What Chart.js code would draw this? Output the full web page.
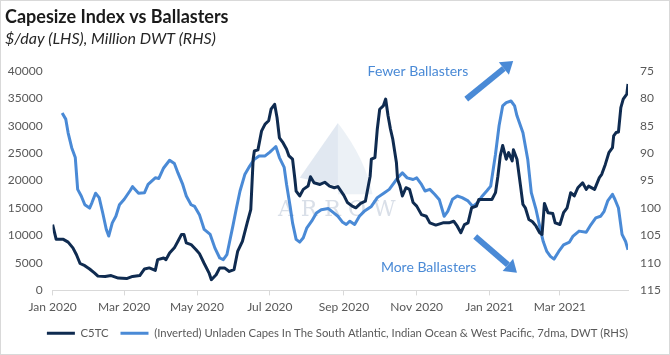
<!DOCTYPE html>
<html>
<head>
<meta charset="utf-8">
<script src="https://cdn.jsdelivr.net/npm/chart.js@4.4.1/dist/chart.umd.min.js"></script>
<style>
  html, body { margin: 0; padding: 0; background: #ffffff; }
  #wrap { width: 670px; height: 355px; position: relative; }
</style>
</head>
<body>
<div id="wrap"><canvas id="c" width="670" height="355"></canvas></div>
<script>
// ---- DATA (day offset from 1 Jan 2020) ----
const monthTickDays = [0, 60, 121, 182, 244, 305, 366, 425];
const monthTickLabels = ["Jan 2020", "Mar 2020", "May 2020", "Jul 2020", "Sep 2020", "Nov 2020", "Jan 2021", "Mar 2021"];

const c5tcDays = [0,3,9,13,17,20,23,27,31,35,38,44,49,55,62,67,73,77,81,86,88,93,95,98,102,105,108,110,112,116,120,123,127,131,133,137,140,144,148,152,155,159,163,166,168,169,172,175,178,181,183,186,188,190,193,196,198,201,203,204,207,210,214,216,219,224,228,232,236,239,244,247,251,254,258,262,266,267,270,272,274,277,279,281,283,285,288,289,291,293,296,299,302,305,309,313,316,321,327,332,336,339,342,345,348,351,355,357,366,368,371,373,375,377,380,382,385,386,389,392,394,396,399,402,405,408,410,412,415,419,421,425,428,431,434,437,440,444,447,449,454,458,460,463,466,469,470,472,474,476,478,481,482];
const c5tcValues = [12000,9300,9300,8800,7750,6500,4900,4500,3900,3200,2600,2550,2700,2250,2150,2550,2700,3900,4100,3650,5600,5900,5600,6800,7750,8950,10200,10200,8650,8350,7450,6700,4900,3200,1950,2850,4100,4100,3450,3800,7100,8950,12300,14700,23900,25400,25600,29000,30300,30900,33000,33900,31500,27800,26900,25700,24500,23900,20200,18100,17200,18400,19000,20700,19600,19300,19700,19000,18700,18900,17300,16000,15350,15050,15850,16250,20800,23900,24200,29400,33000,33600,34850,31800,29400,27500,23300,20200,19000,17200,18700,18400,16000,15350,13800,13500,12300,11900,12300,12300,12600,11700,10500,12000,12300,15050,15350,16550,16550,16550,17800,20800,24500,26400,23900,25100,23600,25600,23900,19000,15650,15050,12900,12500,11700,10500,10200,15850,14150,14000,12300,12000,14150,15050,17800,17200,18700,19600,18400,19000,18400,20550,21150,22950,25100,26000,28150,28750,28850,33300,34850,35750,37600];

const capesDays = [8,11,13,16,19,21,24,27,31,33,36,39,42,45,47,50,53,56,60,65,67,72,77,80,83,86,89,93,98,102,105,109,112,116,119,123,127,132,136,140,143,146,148,151,154,157,161,165,169,173,178,182,185,187,190,194,196,199,201,204,207,210,213,217,221,225,231,235,239,243,246,249,253,257,261,267,272,278,282,286,289,293,297,302,305,309,312,316,320,324,328,331,335,339,343,348,352,356,360,364,367,371,374,377,380,384,387,389,394,398,401,405,408,411,414,417,420,424,428,433,436,441,447,451,455,459,462,465,469,471,474,477,480,482];
const capesValues = [82.7,83.8,86.3,89.0,90.8,96.6,97.8,99.4,100.0,99.0,97.3,98.1,100.9,103.9,105.1,102.7,101.5,99.4,98.4,96.8,96.1,97.3,97.2,95.7,95.1,94.5,94.6,92.7,91.3,91.9,93.6,95.7,97.8,99.4,99.7,101.2,103.9,104.8,107.3,109.1,109.4,108.5,106.4,103.3,100.0,96.9,93.9,92.4,91.1,90.5,90.5,89.8,89.2,88.8,90.8,92.6,95.7,99.7,102.7,105.7,106.2,105.4,103.6,102.4,100.9,100.3,100.1,100.8,101.5,102.6,103.0,102.4,103.0,101.5,100.6,99.7,98.1,97.2,96.6,95.4,94.5,93.6,94.5,94.8,94.5,95.7,96.9,96.6,97.5,98.5,101.5,100.6,98.4,97.8,98.1,98.7,99.7,99.0,97.8,96.8,96.0,90.2,85.0,81.4,80.8,80.5,81.4,83.2,86.3,91.1,97.2,100.3,103.3,106.1,107.9,108.8,109.3,107.9,106.7,106.2,105.1,104.2,104.4,103.0,101.8,101.5,100.6,98.7,97.5,98.4,100.0,104.8,106.1,107.6];

const seriesNames = ["C5TC", "(Inverted) Unladen Capes In The South Atlantic, Indian Ocean & West Pacific, 7dma, DWT (RHS)"];
const titleText = "Capesize Index vs Ballasters";
const subtitleText = "$/day (LHS), Million DWT (RHS)";

// ---- STYLE ----
const DARK = "#0f2b50";
const BLUE = "#4a8ad6";
const FONT = "Lato, 'Liberation Sans', Arial, sans-serif";
const GREY = "#595959";

const toPoints = (xs, ys) => xs.map((d, i) => ({ x: d, y: ys[i] }));

// decoration plugin: border, watermark, annotations
const deco = {
  id: "deco",
  beforeDatasetsDraw(chart) {
    const ctx = chart.ctx;
    const xs = chart.scales.x, yl = chart.scales.yL;
    ctx.save();
    ctx.fillStyle = "rgba(170,190,215,0.35)";
    ctx.beginPath();
    ctx.moveTo(xs.getPixelForValue(207), yl.getPixelForValue(20500));
    ctx.lineTo(xs.getPixelForValue(239), yl.getPixelForValue(30500));
    ctx.lineTo(xs.getPixelForValue(239), yl.getPixelForValue(19000));
    ctx.closePath(); ctx.fill();
    ctx.fillStyle = "rgba(170,190,215,0.22)";
    ctx.beginPath();
    ctx.moveTo(xs.getPixelForValue(239), yl.getPixelForValue(30500));
    ctx.quadraticCurveTo(xs.getPixelForValue(262), yl.getPixelForValue(24000), xs.getPixelForValue(268), yl.getPixelForValue(17500));
    ctx.lineTo(xs.getPixelForValue(239), yl.getPixelForValue(17500));
    ctx.closePath(); ctx.fill();
    ctx.fillStyle = "rgba(170,185,205,0.45)";
    ctx.font = "22px 'DejaVu Serif', 'Liberation Serif', serif";
    ctx.textAlign = "center"; ctx.textBaseline = "middle";
    ctx.fillText("A R R O W", xs.getPixelForValue(238), yl.getPixelForValue(14600));
    ctx.restore();
  },
  afterDraw(chart) {
    const ctx = chart.ctx;
    const xs = chart.scales.x, yl = chart.scales.yL;
    const P = (d, v) => [xs.getPixelForValue(d), yl.getPixelForValue(v)];
    ctx.save();
    ctx.fillStyle = BLUE;
    ctx.font = "14px " + FONT;
    ctx.textAlign = "center"; ctx.textBaseline = "middle";
    let p = P(306, 39800); ctx.fillText("Fewer Ballasters", p[0], p[1]);
    p = P(315, 4150); ctx.fillText("More Ballasters", p[0], p[1]);
    const arrow = (a, b) => {
      const [x1, y1] = a, [x2, y2] = b;
      const ang = Math.atan2(y2 - y1, x2 - x1);
      const hl = 12, hw = 8;
      const bx = x2 - hl * Math.cos(ang), by = y2 - hl * Math.sin(ang);
      ctx.strokeStyle = BLUE; ctx.lineWidth = 6; ctx.lineCap = "butt";
      ctx.beginPath(); ctx.moveTo(x1, y1); ctx.lineTo(bx, by); ctx.stroke();
      ctx.fillStyle = BLUE;
      ctx.beginPath();
      ctx.moveTo(x2, y2);
      ctx.lineTo(bx + hw * Math.sin(ang), by - hw * Math.cos(ang));
      ctx.lineTo(bx - hw * Math.sin(ang), by + hw * Math.cos(ang));
      ctx.closePath(); ctx.fill();
    };
    arrow(P(346.5, 34850), P(385.8, 41800));
    arrow(P(354, 9800), P(389, 3230));
    ctx.strokeStyle = "#d9d9d9"; ctx.lineWidth = 1;
    ctx.strokeRect(0.5, 0.5, chart.width - 1, chart.height - 1);
    ctx.restore();
  }
};

new Chart(document.getElementById("c"), {
  type: "line",
  data: {
    datasets: [
      { label: seriesNames[0], data: toPoints(c5tcDays, c5tcValues), yAxisID: "yL",
        borderColor: DARK, backgroundColor: DARK, borderWidth: 3, pointRadius: 0, tension: 0, borderJoinStyle: "round" },
      { label: seriesNames[1], data: toPoints(capesDays, capesValues), yAxisID: "yR",
        borderColor: BLUE, backgroundColor: BLUE, borderWidth: 3, pointRadius: 0, tension: 0, borderJoinStyle: "round" }
    ]
  },
  options: {
    responsive: false,
    animation: false,
    devicePixelRatio: 1,
    layout: { padding: { top: 4, left: 5, right: 0, bottom: 6 } },
    plugins: {
      title: { display: true, text: titleText, align: "start", color: "#1a1a1a",
        font: { family: FONT, size: 18, weight: "bold", lineHeight: 1.2 }, padding: { top: 2, bottom: 0 } },
      subtitle: { display: true, text: subtitleText, align: "start", color: "#262626",
        font: { family: FONT, size: 16, style: "italic", lineHeight: 1.2 }, padding: { top: 2, bottom: 22 } },
      legend: {
        position: "bottom",
        labels: {
          color: GREY, font: { family: FONT, size: 11.3 }, boxWidth: 28, boxHeight: 3, padding: 12,
          generateLabels(chart) {
            return chart.data.datasets.map((ds, i) => ({
              text: ds.label, fillStyle: ds.borderColor, strokeStyle: ds.borderColor, lineWidth: 0,
              hidden: false, datasetIndex: i, fontColor: GREY
            }));
          }
        }
      },
      tooltip: { enabled: false }
    },
    scales: {
      x: {
        type: "linear", min: 0, max: 482,
        afterBuildTicks(scale) { scale.ticks = monthTickDays.map(v => ({ value: v })); },
        afterFit(scale) { scale.height = 25.3; },
        ticks: {
          color: GREY, font: { family: FONT, size: 12 }, padding: 5, maxRotation: 0, autoSkip: false,
          callback(v) { const i = monthTickDays.indexOf(v); return i >= 0 ? monthTickLabels[i] : ""; }
        },
        grid: { display: true, drawOnChartArea: false, drawTicks: true, tickLength: 5, color: "#d9d9d9" },
        border: { display: true, color: "#d9d9d9" }
      },
      yL: {
        position: "left", min: 0, max: 40000,
        afterFit(scale) { scale.width = 47.6; },
        ticks: { stepSize: 5000, color: GREY, font: { family: FONT, size: 12 }, padding: 10,
          callback(v) { return String(v); } },
        grid: { display: false, drawTicks: false },
        border: { display: false }
      },
      yR: {
        position: "right", min: 75, max: 115, reverse: true,
        afterFit(scale) { scale.width = 42; },
        ticks: { stepSize: 5, color: GREY, font: { family: FONT, size: 12 }, padding: 12,
          callback(v) { return String(v); } },
        grid: { display: false, drawTicks: false },
        border: { display: false }
      }
    }
  },
  plugins: [deco]
});
</script>
</body>
</html>
